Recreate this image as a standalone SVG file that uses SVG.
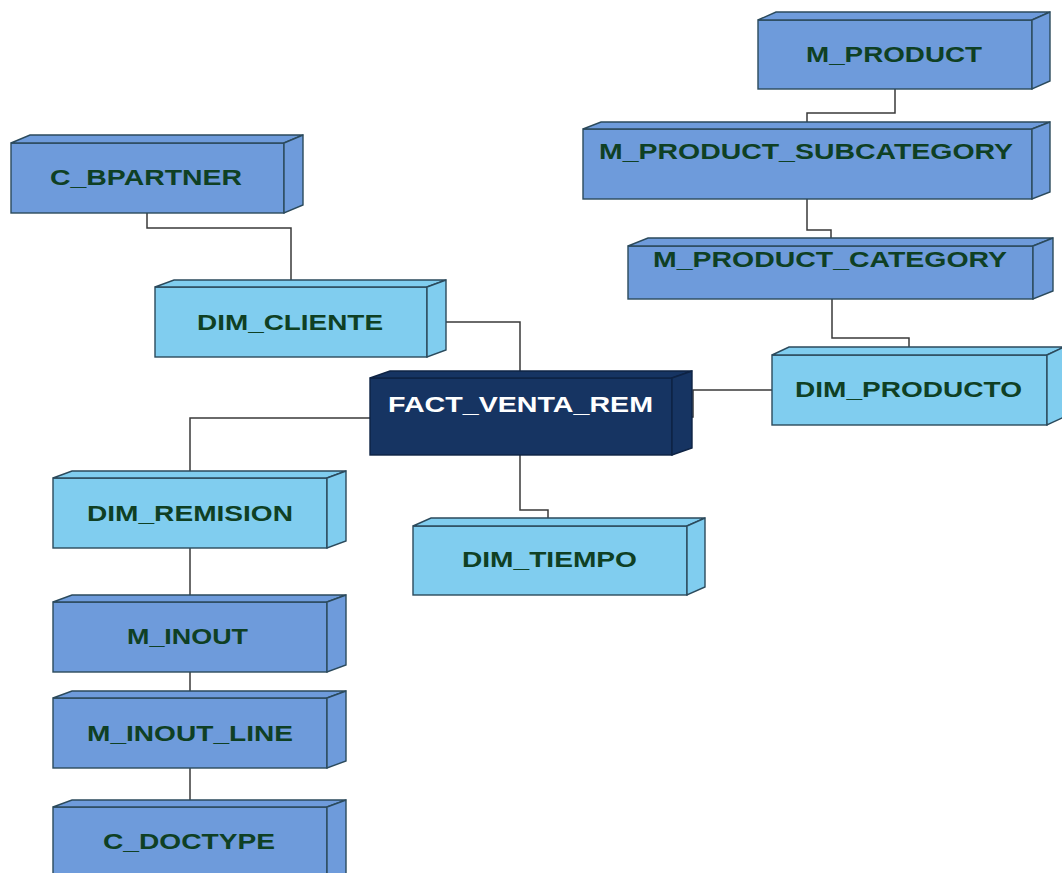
<svg xmlns="http://www.w3.org/2000/svg" width="1062" height="873" viewBox="0 0 1062 873">
  <style>
    .face { stroke: #2b4a5c; stroke-width: 1.4; stroke-linejoin: miter; }
    .src .face { fill: #6e9bdb; }
    .dim .face { fill: #80cdef; }
    .fact .face { fill: #163462; stroke: #0e2344; }
    .label { font-family: "Liberation Sans", Arial, sans-serif; font-weight: bold; font-size: 22.5px; fill: #0f4024; }
    .fact .label { fill: #ffffff; }
    .conn { fill: none; stroke: #3a3a3a; stroke-width: 1.5; }
  </style>
  <rect width="1062" height="873" fill="#ffffff"/>

  <!-- connectors -->
  <g id="connectors" class="conn">
    <path d="M147,213 V228 H291 V287"/>
    <path d="M427,322 H520 V378"/>
    <path d="M895,89 V113 H807 V129"/>
    <path d="M807,199 V230 H831 V246"/>
    <path d="M832,299 V338 H909 V355"/>
    <path d="M672,417 H693 V390 H772"/>
    <path d="M370,418 H190 V478"/>
    <path d="M520,455 V510 H548 V526"/>
    <path d="M190,548 V602"/>
    <path d="M190,672 V698"/>
    <path d="M190,768 V807"/>
  </g>

  <!-- 3D boxes: front face, top face, right face, label -->
  <g id="m_product" class="src">
    <rect class="face" x="758" y="20" width="274" height="69"/>
    <polygon class="face" points="758,20 1032,20 1050,12 776,12"/>
    <polygon class="face" points="1032,20 1050,12 1050,81 1032,89"/>
    <text class="label" x="806" y="62" textLength="176" lengthAdjust="spacingAndGlyphs">M_PRODUCT</text>
  </g>

  <g id="m_product_subcategory" class="src">
    <rect class="face" x="583" y="129" width="449" height="70"/>
    <polygon class="face" points="583,129 1032,129 1050,122 601,122"/>
    <polygon class="face" points="1032,129 1050,122 1050,192 1032,199"/>
    <text class="label" x="599" y="159" textLength="414" lengthAdjust="spacingAndGlyphs">M_PRODUCT_SUBCATEGORY</text>
  </g>

  <g id="m_product_category" class="src">
    <rect class="face" x="628" y="246" width="405" height="53"/>
    <polygon class="face" points="628,246 1033,246 1053,238 648,238"/>
    <polygon class="face" points="1033,246 1053,238 1053,291 1033,299"/>
    <text class="label" x="653" y="267" textLength="354" lengthAdjust="spacingAndGlyphs">M_PRODUCT_CATEGORY</text>
  </g>

  <g id="c_bpartner" class="src">
    <rect class="face" x="11" y="143" width="273" height="70"/>
    <polygon class="face" points="11,143 284,143 303,135 30,135"/>
    <polygon class="face" points="284,143 303,135 303,205 284,213"/>
    <text class="label" x="50" y="185" textLength="192" lengthAdjust="spacingAndGlyphs">C_BPARTNER</text>
  </g>

  <g id="dim_cliente" class="dim">
    <rect class="face" x="155" y="287" width="272" height="70"/>
    <polygon class="face" points="155,287 427,287 446,280 174,280"/>
    <polygon class="face" points="427,287 446,280 446,350 427,357"/>
    <text class="label" x="197" y="330" textLength="186" lengthAdjust="spacingAndGlyphs">DIM_CLIENTE</text>
  </g>

  <g id="fact_venta_rem" class="fact">
    <rect class="face" x="370" y="378" width="302" height="77"/>
    <polygon class="face" points="370,378 672,378 692,371 390,371"/>
    <polygon class="face" points="672,378 692,371 692,448 672,455"/>
    <text class="label" x="388" y="412" textLength="265" lengthAdjust="spacingAndGlyphs">FACT_VENTA_REM</text>
  </g>

  <g id="dim_producto" class="dim">
    <rect class="face" x="772" y="355" width="275" height="70"/>
    <polygon class="face" points="772,355 1047,355 1064,347 789,347"/>
    <polygon class="face" points="1047,355 1064,347 1064,417 1047,425"/>
    <text class="label" x="795" y="397" textLength="227" lengthAdjust="spacingAndGlyphs">DIM_PRODUCTO</text>
  </g>

  <g id="dim_remision" class="dim">
    <rect class="face" x="53" y="478" width="274" height="70"/>
    <polygon class="face" points="53,478 327,478 346,471 72,471"/>
    <polygon class="face" points="327,478 346,471 346,541 327,548"/>
    <text class="label" x="87" y="521" textLength="206" lengthAdjust="spacingAndGlyphs">DIM_REMISION</text>
  </g>

  <g id="dim_tiempo" class="dim">
    <rect class="face" x="413" y="526" width="274" height="69"/>
    <polygon class="face" points="413,526 687,526 705,518 431,518"/>
    <polygon class="face" points="687,526 705,518 705,587 687,595"/>
    <text class="label" x="462" y="567" textLength="175" lengthAdjust="spacingAndGlyphs">DIM_TIEMPO</text>
  </g>

  <g id="m_inout" class="src">
    <rect class="face" x="53" y="602" width="274" height="70"/>
    <polygon class="face" points="53,602 327,602 346,595 72,595"/>
    <polygon class="face" points="327,602 346,595 346,665 327,672"/>
    <text class="label" x="127" y="644" textLength="121" lengthAdjust="spacingAndGlyphs">M_INOUT</text>
  </g>

  <g id="m_inout_line" class="src">
    <rect class="face" x="53" y="698" width="274" height="70"/>
    <polygon class="face" points="53,698 327,698 346,691 72,691"/>
    <polygon class="face" points="327,698 346,691 346,761 327,768"/>
    <text class="label" x="87" y="741" textLength="206" lengthAdjust="spacingAndGlyphs">M_INOUT_LINE</text>
  </g>

  <g id="c_doctype" class="src">
    <rect class="face" x="53" y="807" width="274" height="80"/>
    <polygon class="face" points="53,807 327,807 346,800 72,800"/>
    <polygon class="face" points="327,807 346,800 346,880 327,887"/>
    <text class="label" x="103" y="849" textLength="172" lengthAdjust="spacingAndGlyphs">C_DOCTYPE</text>
  </g>
</svg>
